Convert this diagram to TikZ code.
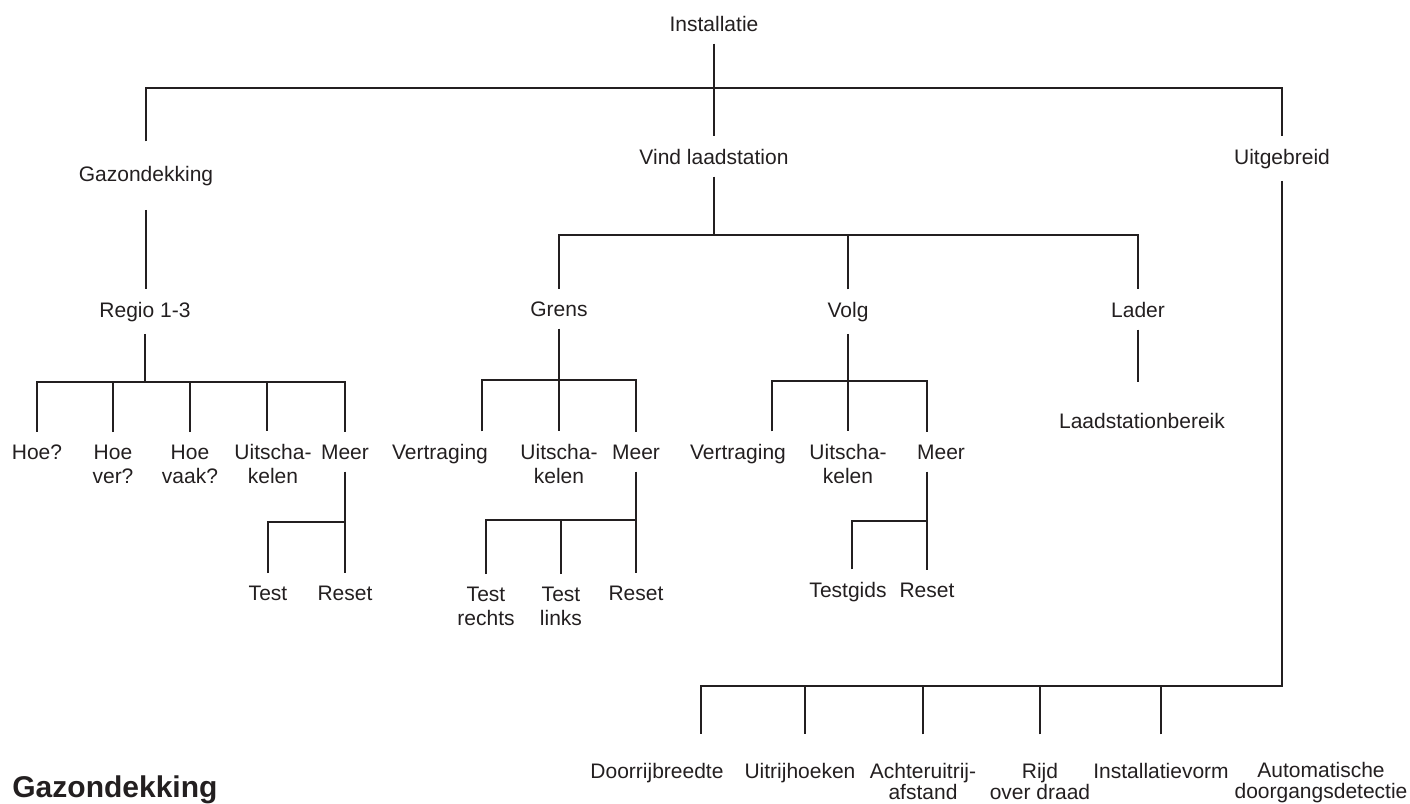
\documentclass[tikz,border=0pt]{standalone}
\usepackage{fontspec}
\setmainfont{Liberation Sans}
\definecolor{ink}{HTML}{231F20}
\tikzset{
  lbl/.style={font=\fontsize{10.5}{12}\selectfont, text=ink, align=center,
    inner xsep=0pt, inner ysep=6pt, anchor=base},
  lblbot/.style={lbl, font=\fontsize{10.5}{10.5}\selectfont, inner ysep=14pt},
  tree/.style={draw=ink, line width=1.4pt},
}

\begin{document}
\begin{tikzpicture}[x=0.5pt,y=-0.5pt]
    \useasboundingbox (0,0) rectangle (1410,804);

    % top levels
    \node[lbl] (inst) at (714,31) {Installatie};
    \node[lbl, inner ysep=12pt] (gaz) at (146,181) {Gazondekking};
    \node[lbl] (vind) at (714,164) {Vind laadstation};
    \node[lbl] (uitg) at (1282,164) {Uitgebreid};

    \node[lbl] (regio) at (145,317) {Regio 1-3};
    \node[lbl] (grens) at (559,316) {Grens};
    \node[lbl] (volg) at (848,317) {Volg};
    \node[lbl] (lader) at (1138,317) {Lader};
    \node[lbl, inner ysep=15pt] (lsb) at (1142,428) {Laadstationbereik};

    % Regio 1-3 (two-line nodes sit on their last baseline)
    \node[lbl] (hoe1) at (37,459) {Hoe?};
    \node[lbl] (hoe2) at (113,483) {Hoe\\ver?};
    \node[lbl] (hoe3) at (190,483) {Hoe\\vaak?};
    \node[lbl] (uit1) at (273,483) {Uitscha-\\kelen};
    \node[lbl] (meer1) at (345,459) {Meer};
    \node[lbl] (test1) at (268,600) {Test};
    \node[lbl] (reset1) at (345,600) {Reset};

    % Grens
    \node[lbl] (vt1) at (440,459) {Vertraging};
    \node[lbl] (uit2) at (559,483) {Uitscha-\\kelen};
    \node[lbl] (meer2) at (636,459) {Meer};
    \node[lbl] (tr) at (486,625) {Test\\rechts};
    \node[lbl] (tl) at (561,625) {Test\\links};
    \node[lbl] (reset2) at (636,600) {Reset};

    % Volg
    \node[lbl] (vt2) at (738,459) {Vertraging};
    \node[lbl] (uit3) at (848,483) {Uitscha-\\kelen};
    \node[lbl] (meer3) at (941,459) {Meer};
    \node[lbl] (testgids) at (848,597) {Testgids};
    \node[lbl] (reset3) at (927,597) {Reset};

    % Uitgebreid
    \node[lblbot] (drb) at (657,778) {Doorrijbreedte};
    \node[lblbot] (uhk) at (800,778) {Uitrijhoeken};
    \node[lblbot] (acht) at (923,799) {Achteruitrij-\\afstand};
    \node[lblbot] (rijd) at (1040,799) {Rijd\\over draad};
    \node[lblbot] (ivorm) at (1161,778) {Installatievorm};
    \node[lblbot] (auto) at (1321,798) {Automatische\\doorgangsdetectie};

    \node[font=\bfseries\fontsize{15}{18}\selectfont, text=ink, anchor=base west,
      inner sep=0pt] (kop) at (12,797) {Gazondekking};

    % junctions on the bars
    \coordinate (j0) at (714,88);
    \coordinate (j1) at (714,235);
    \coordinate (j2) at (145,382);
    \coordinate (du1) at (267,382);
    \coordinate (j3) at (559,380);
    \coordinate (dv1) at (482,380);
    \coordinate (j4) at (848,381);
    \coordinate (dv2) at (772,381);
    \coordinate (dm3) at (927,381);
    \coordinate (j5) at (345,522);
    \coordinate (j6) at (636,520);
    \coordinate (j7) at (927,521);
    \coordinate (dt3) at (852,521);
    \coordinate (j8) at (1282,686);
    \coordinate (dd1) at (701,686);
    \coordinate (dd2) at (805,686);

    % top
    \draw[tree] (inst.south) -- (vind.north);
    \draw[tree] (gaz.north) |- (j0) -| (uitg.north);

    % Gazondekking branch
    \draw[tree] (gaz.south) -- (gaz.south |- regio.north);
    \draw[tree] (regio.south) -- (j2);
    \draw[tree] (hoe1.north) |- (j2) -| (meer1.north);
    \draw[tree] (hoe2.north) -- (hoe2.north |- j2);
    \draw[tree] (hoe3.north) -- (hoe3.north |- j2);
    \draw[tree] (du1) -- (du1 |- uit1.north);
    \draw[tree] (meer1.south) -- (reset1.north);
    \draw[tree] (test1.north) |- (j5);

    % Vind laadstation branch
    \draw[tree] (vind.south) -- (j1);
    \draw[tree] (grens.north) |- (j1) -| (lader.north);
    \draw[tree] (volg.north) -- (volg.north |- j1);

    \draw[tree] (grens.south) -- (uit2.north);
    \draw[tree] (dv1 |- vt1.north) |- (j3) -| (meer2.north);
    \draw[tree] (meer2.south) -- (reset2.north);
    \draw[tree] (tr.north) |- (j6);
    \draw[tree] (tl.north) -- (tl.north |- j6);

    \draw[tree] (volg.south) -- (uit3.north);
    \draw[tree] (dv2 |- vt2.north) |- (j4) -| (dm3 |- meer3.north);
    \draw[tree] (dm3 |- meer3.south) -- (reset3.north);
    \draw[tree] (dt3 |- testgids.north) |- (j7);

    \draw[tree] (lader.south) -- (lader.south |- lsb.north);

    % Uitgebreid branch
    \draw[tree] (uitg.south) -- (j8) -- (dd1) -- (dd1 |- drb.north);
    \draw[tree] (dd2) -- (dd2 |- uhk.north);
    \draw[tree] (acht.north) -- (acht.north |- j8);
    \draw[tree] (rijd.north) -- (rijd.north |- j8);
    \draw[tree] (ivorm.north) -- (ivorm.north |- j8);
\end{tikzpicture}
\end{document}
